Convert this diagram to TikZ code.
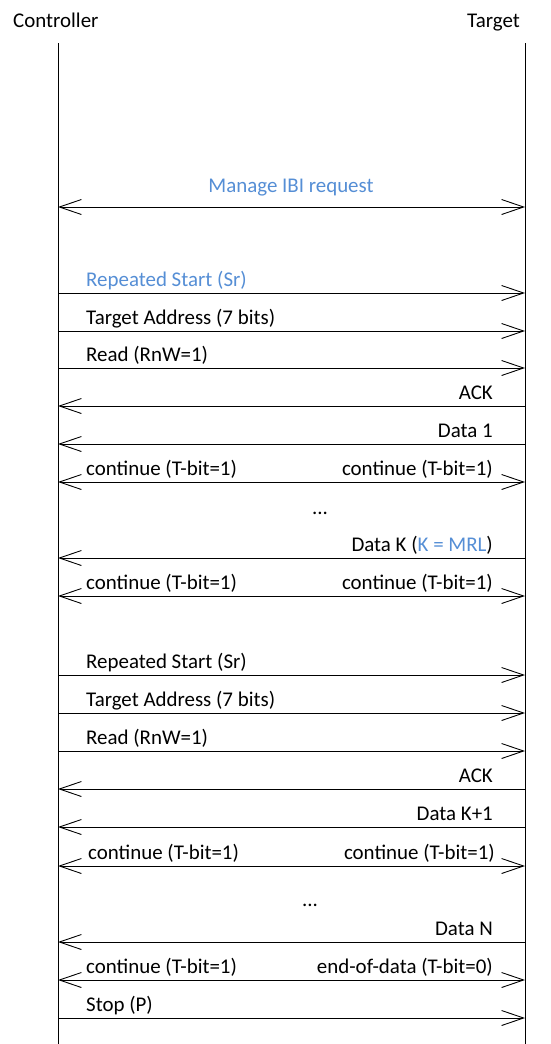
\documentclass[tikz,border=0pt]{standalone}
\usepackage{fontspec}
\setmainfont{Carlito}
\usetikzlibrary{arrows.meta}
\definecolor{ibiblue}{HTML}{558ED5}
\tikzset{
  x=1bp, y=-1bp,
  lifeline/.style={line width=0.9bp, black},
  barb/.tip={Straight Barb[length=22bp,width=15bp,line width=0.9bp]},
  msg/.style={line width=0.9bp, black},
  tor/.style={msg, -barb},
  tol/.style={msg, barb-},
  both/.style={msg, barb-barb},
  lbl/.style={inner sep=0pt, font=\fontsize{21}{25}\selectfont},
  lleft/.style={lbl, anchor=base west},
  lright/.style={lbl, anchor=base east},
}
\begin{document}
\begin{tikzpicture}
\useasboundingbox (0,0) rectangle (551,1044);

% participants and lifelines
\node[lbl, anchor=base west] (ctrl) at (13,27) {Controller};
\node[lbl, anchor=base east] (tgt) at (520,27) {Target};
\coordinate (ctop) at (58,43);
\coordinate (cbot) at (58,1044);
\coordinate (ttop) at (525,43);
\coordinate (tbot) at (525,1044);
\draw[lifeline] (ctop) -- (cbot);
\draw[lifeline] (ttop) -- (tbot);

% message rows: end points on both lifelines
\foreach \n/\y in {ibi/207, sra/293, taa/331, rda/368, acka/406, d1/444, ca/482,
                   dk/558, cb/596, srb/675, tab/713, rdb/751, ackb/789, dk1/827,
                   cc/866, dn/942, cd/980, stop/1018} {
  \coordinate (c-\n) at (58,\y);
  \coordinate (t-\n) at (525,\y);
}

% IBI handling
\draw[both] (c-ibi) -- (t-ibi);
\node[lbl, anchor=base, text=ibiblue] (l-ibi) at (291,192) {Manage IBI request};

% first read transfer
\draw[tor] (c-sra) -- (t-sra);
\node[lleft, text=ibiblue] (l-sra) at (86,286) {Repeated Start (Sr)};
\draw[tor] (c-taa) -- (t-taa);
\node[lleft] (l-taa) at (86,324) {Target Address (7 bits)};
\draw[tor] (c-rda) -- (t-rda);
\node[lleft] (l-rda) at (86,361) {Read (RnW=1)};
\draw[tol] (c-acka) -- (t-acka);
\node[lright] (l-acka) at (493,399) {ACK};
\draw[tol] (c-d1) -- (t-d1);
\node[lright] (l-d1) at (493,437) {Data 1};
\draw[both] (c-ca) -- (t-ca);
\node[lleft] (l-cal) at (86,475) {continue (T-bit=1)};
\node[lright] (l-car) at (493,475) {continue (T-bit=1)};
\node[lbl, anchor=base] (dots1) at (320,514) {...};
\draw[tol] (c-dk) -- (t-dk);
\node[lright] (l-dk) at (493,551) {Data K (\textcolor{ibiblue}{K = MRL})};
\draw[both] (c-cb) -- (t-cb);
\node[lleft] (l-cbl) at (86,589) {continue (T-bit=1)};
\node[lright] (l-cbr) at (493,589) {continue (T-bit=1)};

% second read transfer
\draw[tor] (c-srb) -- (t-srb);
\node[lleft] (l-srb) at (86,668) {Repeated Start (Sr)};
\draw[tor] (c-tab) -- (t-tab);
\node[lleft] (l-tab) at (86,706) {Target Address (7 bits)};
\draw[tor] (c-rdb) -- (t-rdb);
\node[lleft] (l-rdb) at (86,744) {Read (RnW=1)};
\draw[tol] (c-ackb) -- (t-ackb);
\node[lright] (l-ackb) at (493,782) {ACK};
\draw[tol] (c-dk1) -- (t-dk1);
\node[lright] (l-dk1) at (493,820) {Data K+1};
\draw[both] (c-cc) -- (t-cc);
\node[lleft] (l-ccl) at (88,859) {continue (T-bit=1)};
\node[lright] (l-ccr) at (495,859) {continue (T-bit=1)};
\node[lbl, anchor=base] (dots2) at (310,906) {...};
\draw[tol] (c-dn) -- (t-dn);
\node[lright] (l-dn) at (493,935) {Data N};
\draw[both] (c-cd) -- (t-cd);
\node[lleft] (l-cdl) at (86,973) {continue (T-bit=1)};
\node[lright] (l-cdr) at (493,973) {end-of-data (T-bit=0)};
\draw[tor] (c-stop) -- (t-stop);
\node[lleft] (l-stop) at (86,1011) {Stop (P)};
\end{tikzpicture}
\end{document}
